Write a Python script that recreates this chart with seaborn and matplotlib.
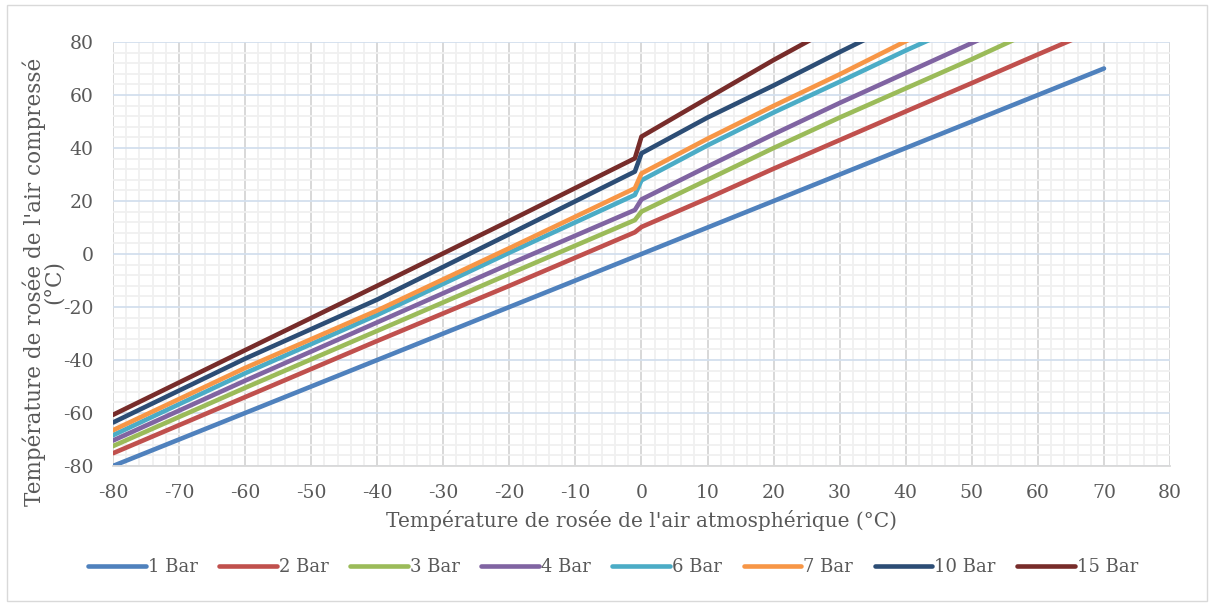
import matplotlib
matplotlib.use("Agg")
import matplotlib.pyplot as plt
from matplotlib.ticker import MultipleLocator
from matplotlib.patches import Rectangle
import seaborn as sns
import pandas as pd

# Point de rosée atmosphérique (axe X)
x_atm = [-80, -60, -40, -20, -1, 0, 10, 20, 30, 40, 50, 60, 70]

# Point de rosée sous pression, None = hors du cadre
bar_1 = [-80, -60, -40, -20, -1, 0, 10, 20, 30, 40, 50, 60, 70]
bar_2 = [-75.2, -54.0, -32.8, -12.0, 8.2, 10.2, 21.0, 32.2, 43.0, 53.8, 64.5, 75.3, 86.0]
bar_3 = [-72.5, -50.5, -29.0, -7.5, 12.8, 16.0, 28.0, 40.0, 51.5, 62.5, 73.5, 85.0, None]
bar_4 = [-70.4, -47.8, -25.8, -3.8, 16.6, 20.6, 33.0, 45.2, 57.0, 68.3, 79.6, 91.0, None]
bar_6 = [-68.4, -45.0, -23.0, 0.5, 22.3, 27.8, 41.0, 53.4, 65.0, 76.8, 88.0, None, None]
bar_7 = [-66.5, -43.0, -21.3, 2.2, 24.8, 30.4, 43.5, 55.9, 67.8, 80.3, 92.0, None, None]
bar_10 = [-63.6, -39.5, -17.2, 7.5, 31.1, 38.0, 51.5, 63.6, 76.2, 88.5, None, None, None]
bar_15 = [-60.7, -36.3, -12.0, 12.5, 36.1, 44.3, 58.8, 73.2, 86.8, None, None, None, None]

series_names = ["1 Bar", "2 Bar", "3 Bar", "4 Bar", "6 Bar", "7 Bar", "10 Bar", "15 Bar"]
series_values = [bar_1, bar_2, bar_3, bar_4, bar_6, bar_7, bar_10, bar_15]
colors = ["#4F81BD", "#C0504D", "#9BBB59", "#8064A2", "#4BACC6", "#F79646", "#2C4D75", "#772C2A"]

rows = []
for name, vals in zip(series_names, series_values):
    for x, y in zip(x_atm, vals):
        if y is not None:
            rows.append({"atm": x, "comp": y, "serie": name})
df = pd.DataFrame(rows)

sns.set_theme(style="white")
plt.rcParams["font.family"] = ["DejaVu Serif"]
plt.rcParams["axes.unicode_minus"] = False

fig = plt.figure(figsize=(12.14, 6.06), dpi=100)
ax = fig.add_axes([0.093, 0.231, 0.8708, 0.6997])

sns.lineplot(data=df, x="atm", y="comp", hue="serie", hue_order=series_names,
             palette=colors, estimator=None, sort=False, linewidth=3.3,
             ax=ax, legend=True)
for line in ax.get_lines():
    line.set_solid_capstyle("round")
    line.set_solid_joinstyle("round")

ax.set_xlim(-80, 80)
ax.set_ylim(-80, 80)
ax.xaxis.set_major_locator(MultipleLocator(10))
ax.yaxis.set_major_locator(MultipleLocator(20))
ax.xaxis.set_minor_locator(MultipleLocator(2))
ax.yaxis.set_minor_locator(MultipleLocator(4))
ax.set_axisbelow(True)
ax.grid(which="minor", axis="both", color="#F0F0F0", linewidth=1.3)
ax.grid(which="major", axis="x", color="#D6D6D6", linewidth=1.3)
ax.grid(which="major", axis="y", color="#D3DFEE", linewidth=1.3)
ax.tick_params(which="both", length=0, labelsize=13.5, labelcolor="#595959")
ax.tick_params(axis="x", pad=13)
ax.tick_params(axis="y", pad=14)
for side in ["top", "right", "left"]:
    ax.spines[side].set_visible(False)
ax.spines["bottom"].set_color("#D9D9D9")
ax.spines["bottom"].set_linewidth(1.3)

ax.set_xlabel("Température de rosée de l'air atmosphérique (°C)", fontsize=14.5,
              color="#595959", labelpad=6)
ax.set_ylabel("")
fig.text(0.036, 0.535, "Température de rosée de l'air compressé\n(°C)", rotation=90,
         ha="center", va="center", multialignment="center", fontsize=15.5,
         color="#595959", linespacing=0.85)

handles, labels = ax.get_legend_handles_labels()
ax.get_legend().remove()
leg = fig.legend(handles, labels, loc="center", bbox_to_anchor=(0.505, 0.064), ncol=8,
                 frameon=False, fontsize=13, handlelength=3.2, handletextpad=0.1,
                 columnspacing=1.2)
for t in leg.get_texts():
    t.set_color("#595959")
for h in leg.legend_handles:
    h.set_linewidth(3.3)
    h.set_solid_capstyle("round")

fig.patches.append(Rectangle((0.006, 0.008), 0.988, 0.984, transform=fig.transFigure,
                             fill=False, edgecolor="#D9D9D9", linewidth=1))

fig.savefig("out.png", dpi=100)
